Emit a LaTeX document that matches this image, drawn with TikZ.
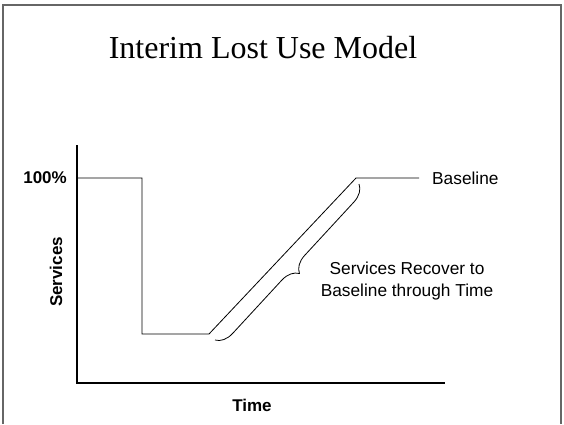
\documentclass[tikz,border=0pt]{standalone}
\usepackage{fontspec}
\setmainfont{Liberation Serif}
\setsansfont{Liberation Sans}
\usetikzlibrary{decorations.pathreplacing}
\begin{document}
\begin{tikzpicture}[x=1pt,y=-1pt,
  frameline/.style={draw=black!60,line width=1.6pt},
  axisline/.style={draw=black,line width=1.6pt},
  curve/.style={draw=black,line width=0.8pt,line join=miter},
  lbl/.style={font=\sffamily\fontsize{17.3}{21.3}\selectfont,inner sep=0pt},
  blbl/.style={font=\sffamily\bfseries\fontsize{17}{21}\selectfont,inner sep=0pt},
  bracestyle/.style={draw=black,line width=0.8pt,decorate,
    decoration={brace,mirror,amplitude=17pt,aspect=0.5}}]
\useasboundingbox (0,0) rectangle (564,424);
% frame open at the bottom
\draw[frameline] (3,424) -- (3,5) -- (561,5) -- (561,424);
% title
\node[font=\fontsize{32}{38}\selectfont,inner sep=0pt] (title) at (263,48) {Interim Lost Use Model};
% axes
\coordinate (ytop) at (77,145);
\coordinate (origin) at (77,383);
\coordinate (xend) at (445,383);
\draw[axisline] (ytop) -- (origin) -- (xend);
% service level over time
\coordinate (s0) at (77,178);
\coordinate (s1) at (142,178);
\coordinate (s2) at (142,334);
\coordinate (s3) at (209,334);
\coordinate (s4) at (356,178);
\coordinate (s5) at (419,178);
\draw[curve] (s0) -- (s1) -- (s2) -- (s3) -- (s4) -- (s5);
% brace along the recovery ramp
\coordinate (b0) at (215,340);
\coordinate (b1) at (359,184);
\draw[bracestyle] (b0) -- (b1);
% labels
\node[blbl,anchor=east] (pct) at (67,178) {100\%};
\node[blbl,rotate=90] (ylab) at (56,272) {Services};
\node[blbl] (xlab) at (252,405) {Time};
\node[lbl,anchor=west] (base) at (432,178) {Baseline};
\node[lbl,align=center] (rec) at (407,281) {Services Recover to\\Baseline through Time};
\end{tikzpicture}
\end{document}
